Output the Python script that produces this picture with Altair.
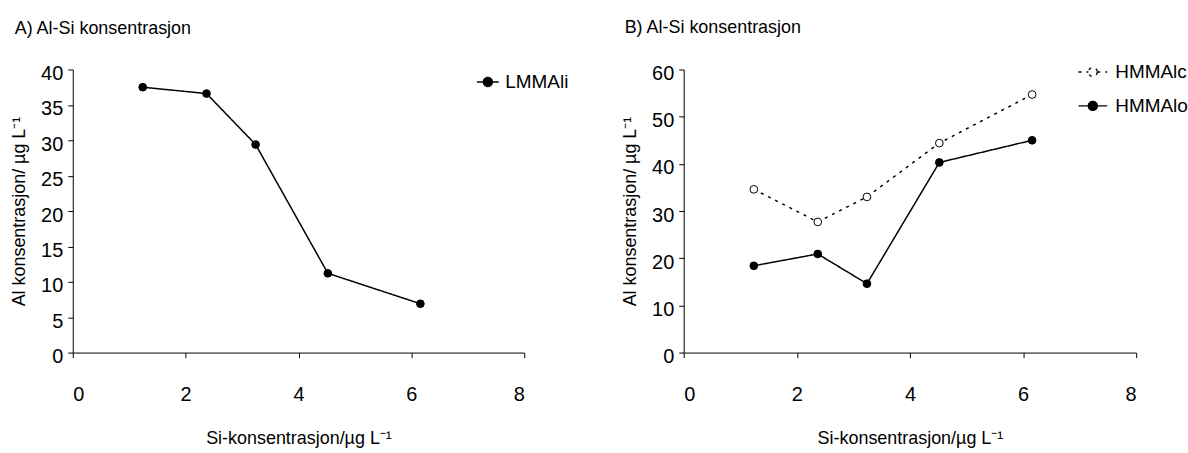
import altair as alt
import pandas as pd

# ---- data ----
si = [1.24, 2.37, 3.24, 4.52, 6.16]
lmm_ali = [37.5, 36.6, 29.4, 11.2, 6.9]
hmm_alc = [34.6, 27.7, 33.0, 44.4, 54.7]
hmm_alo = [18.4, 20.9, 14.6, 40.3, 45.0]

x_ticks = [0, 2, 4, 6, 8]
ya_ticks = [0, 5, 10, 15, 20, 25, 30, 35, 40]
yb_ticks = [0, 10, 20, 30, 40, 50, 60]

title_a = "A) Al-Si konsentrasjon"
title_b = "B) Al-Si konsentrasjon"
x_title = "Si-konsentrasjon/µg L⁻¹"
y_title = "Al konsentrasjon/ µg L⁻¹"

FONT = "Liberation Sans"

dfA = pd.DataFrame({"si": si, "al": lmm_ali, "serie": "LMMAli"})
dfB = pd.concat([
    pd.DataFrame({"si": si, "al": hmm_alc, "serie": "HMMAlc"}),
    pd.DataFrame({"si": si, "al": hmm_alo, "serie": "HMMAlo"}),
])


def sym_path(half, r):
    # line with a circle in the middle (legend symbol), unit scale = sqrt(size)/2
    return (f"M{-half},0H{-r}M{r},0H{half}"
            f"M{r},0A{r},{r},0,1,1,{-r},0A{r},{r},0,1,1,{r},0Z")


def panel(df, series, dashes, fills, ydomain, yticks, title, lx, ly, half,
          lab_off, row_pad, w, h, tdx):
    leg = alt.Legend(
        title=None, orient="none", legendX=lx, legendY=ly,
        symbolType=sym_path(half, 0.75), symbolSize=144, symbolStrokeWidth=1.4,
        symbolStrokeColor="black", labelFont=FONT, labelFontSize=19,
        labelColor="black", labelOffset=lab_off, rowPadding=row_pad, padding=0,
    )
    x = alt.X("si:Q", scale=alt.Scale(domain=[0, 8], nice=False),
              axis=alt.Axis(values=x_ticks, title=x_title, labelPadding=27,
                            titlePadding=25))
    y = alt.Y("al:Q", scale=alt.Scale(domain=ydomain, nice=False),
              axis=alt.Axis(values=yticks, title=y_title, labelPadding=5,
                            labelOffset=4, titlePadding=12))
    line = alt.Chart(df).mark_line(color="black", strokeWidth=1.5).encode(
        x=x, y=y,
        strokeDash=alt.StrokeDash("serie:N", scale=alt.Scale(domain=series, range=dashes), legend=leg),
    )
    pts = alt.Chart(df).mark_point(shape="circle", filled=True, stroke="black",
                                   strokeWidth=1, size=60, opacity=1).encode(
        x=x, y=y,
        fill=alt.Fill("serie:N", scale=alt.Scale(domain=series, range=fills), legend=leg),
    )
    return alt.layer(line, pts).properties(
        width=w, height=h,
        title=alt.TitleParams(title, anchor="start", frame="bounds", fontSize=18,
                              font=FONT, fontWeight="normal", color="black",
                              offset=26, dx=tdx),
    )


A = panel(dfA, ["LMMAli"], [[1, 0]], ["black"], [0, 40], ya_ticks, title_a,
          407, 3, 1.83, 8, 3, 453, 284, 4)
B = panel(dfB, ["HMMAlc", "HMMAlo"], [[3, 5], [1, 0]], ["white", "black"], [0, 60],
          yb_ticks, title_b, 401, -7, 2.4, 13, 14, 454, 284, 3)

chart = alt.hconcat(A, B, spacing=160, bounds="flush").resolve_scale(
    x="independent", y="independent", strokeDash="independent", fill="independent"
).resolve_legend(strokeDash="independent", fill="independent").properties(
    padding={"left": 10, "top": 18, "right": 0, "bottom": 0}
).configure_view(stroke=None).configure_axis(
    grid=False, domainColor="black", tickColor="black", domainWidth=1, tickWidth=1,
    tickSize=5, labelFont=FONT, labelFontSize=20, labelColor="black",
    titleFont=FONT, titleFontSize=18, titleFontWeight="normal", titleColor="black",
)

chart.save("out.html", embed_options={"renderer": "svg", "actions": False})
